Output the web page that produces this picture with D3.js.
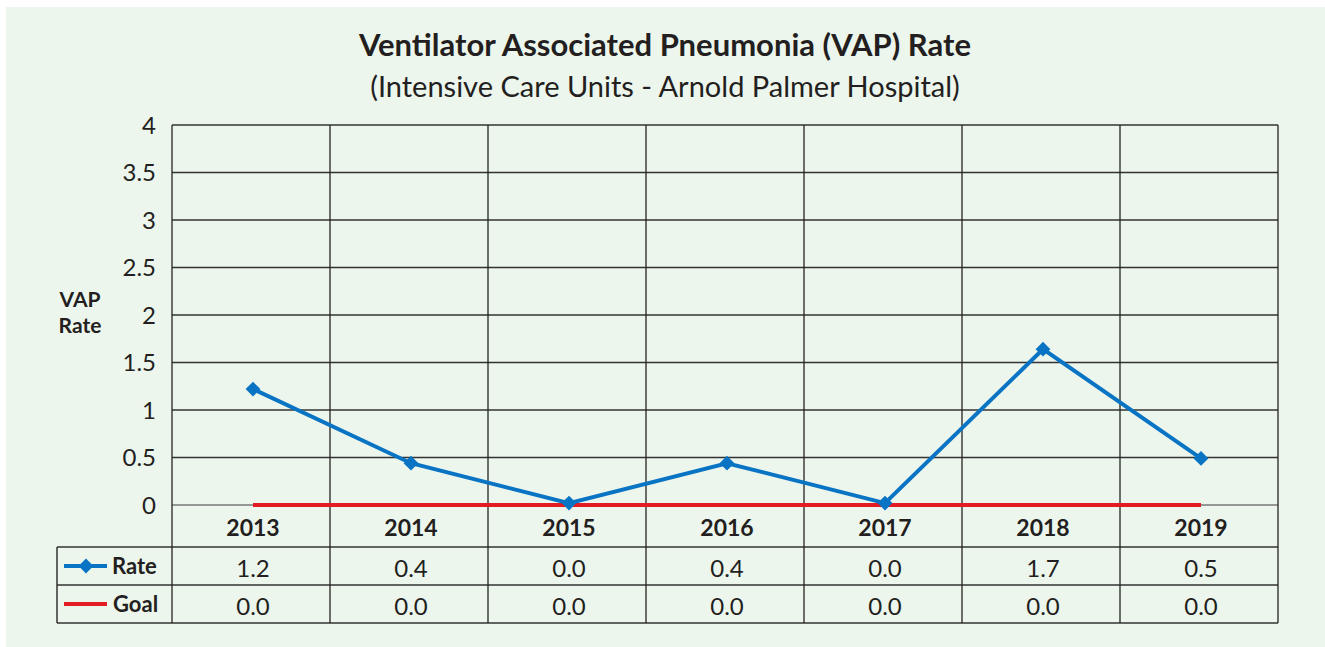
<!DOCTYPE html>
<html>
<head>
<meta charset="utf-8">
<script src="https://cdn.jsdelivr.net/npm/d3@7"></script>
<style>
body{margin:0;background:#fff;}
text{font-family:"Lato","Noto Sans",sans-serif;fill:#231f20;}
</style>
</head>
<body>
<div id="chart"></div>
<script>
var w=1325, h=647;
var pad={top:125, bottom:142, left:172, right:47};

//Chart values
var years=["2013","2014","2015","2016","2017","2018","2019"];
var rate=[1.22,0.44,0.02,0.44,0.02,1.64,0.49];
var goal=[0,0,0,0,0,0,0];
var rateLabels=["1.2","0.4","0.0","0.4","0.0","1.7","0.5"];
var goalLabels=["0.0","0.0","0.0","0.0","0.0","0.0","0.0"];
var yTicks=[0,0.5,1,1.5,2,2.5,3,3.5,4];

var blue="#0a74c4", red="#e31b23";

var svg=d3.select("#chart").append("svg")
          .attr("width",w)
          .attr("height",h);

//Background panel
svg.append("rect")
   .attr("x",6).attr("y",7)
   .attr("width",w-6).attr("height",h-7)
   .style("fill","#edf6ed");

//Titles
svg.append("text")
   .attr("x",665).attr("y",56)
   .attr("text-anchor","middle")
   .style("font-size","31px")
   .style("font-weight","bold")
   .text("Ventilator Associated Pneumonia (VAP) Rate");
svg.append("text")
   .attr("x",665).attr("y",97)
   .attr("text-anchor","middle")
   .style("font-size","29px")
   .text("(Intensive Care Units - Arnold Palmer Hospital)");

//Scales
var xScale=d3.scaleBand()
             .domain(years)
             .range([pad.left,w-pad.right])
             .padding(0);
var yScale=d3.scaleLinear()
             .domain([0,4])
             .range([h-pad.bottom,pad.top]);
var cx=function(d) {return xScale(d)+xScale.bandwidth()/2;};
var px=function(d) {return cx(d)+2;};

var y0=yScale(0);
var rowH=[42,38,38];
var tableLeft=57, tableRight=w-pad.right;

//Horizontal gridlines
svg.append("g")
   .selectAll("line")
   .data(yTicks)
   .enter()
   .append("line")
   .attr("x1",pad.left).attr("x2",tableRight)
   .attr("y1",function(d) {return yScale(d);})
   .attr("y2",function(d) {return yScale(d);})
   .style("stroke",function(d) {return d==0 ? "#777" : "#333";})
   .style("stroke-width",1.3);

//Y tick labels
svg.append("g")
   .selectAll("text")
   .data(yTicks)
   .enter()
   .append("text")
   .attr("x",156)
   .attr("y",function(d) {return yScale(d);})
   .attr("dy","0.36em")
   .attr("text-anchor","end")
   .style("font-size","24px")
   .text(function(d) {return d;});

//Y axis title
svg.append("text")
   .attr("x",80).attr("y",307)
   .attr("text-anchor","middle")
   .style("font-size","21px")
   .style("font-weight","bold")
   .text("VAP");
svg.append("text")
   .attr("x",80).attr("y",333)
   .attr("text-anchor","middle")
   .style("font-size","21px")
   .style("font-weight","bold")
   .text("Rate");

//Table rows
var rowY=[y0, y0+rowH[0], y0+rowH[0]+rowH[1], y0+rowH[0]+rowH[1]+rowH[2]];
svg.append("g")
   .selectAll("line")
   .data(rowY.slice(1))
   .enter()
   .append("line")
   .attr("x1",tableLeft).attr("x2",tableRight)
   .attr("y1",function(d) {return d;})
   .attr("y2",function(d) {return d;})
   .style("stroke","#333")
   .style("stroke-width",1.5);
svg.append("line")
   .attr("x1",tableLeft).attr("x2",tableLeft)
   .attr("y1",rowY[1]).attr("y2",rowY[3])
   .style("stroke","#333").style("stroke-width",1.5);

//Vertical gridlines
var vx=years.map(function(d) {return xScale(d);}).concat([w-pad.right]);
svg.append("g")
   .selectAll("line")
   .data(vx)
   .enter()
   .append("line")
   .attr("x1",function(d) {return d;})
   .attr("x2",function(d) {return d;})
   .attr("y1",pad.top)
   .attr("y2",rowY[3])
   .style("stroke","#222")
   .style("stroke-width",1.3);

//Year labels
svg.append("g")
   .selectAll("text")
   .data(years)
   .enter()
   .append("text")
   .attr("x",px)
   .attr("y",y0+rowH[0]/2+2)
   .attr("dy","0.36em")
   .attr("text-anchor","middle")
   .style("font-size","23px")
   .style("font-weight","bold")
   .text(function(d) {return d;});

//Value labels
var drawRow=function(labels,row) {
    svg.append("g")
       .selectAll("text")
       .data(labels)
       .enter()
       .append("text")
       .attr("x",function(d,i) {return px(years[i]);})
       .attr("y",(rowY[row]+rowY[row+1])/2+2)
       .attr("dy","0.36em")
       .attr("text-anchor","middle")
       .style("font-size","24px")
       .text(function(d) {return d;});
};
drawRow(rateLabels,1);
drawRow(goalLabels,2);

//Legend keys
var ky1=(rowY[1]+rowY[2])/2, ky2=(rowY[2]+rowY[3])/2;
svg.append("line")
   .attr("x1",64).attr("x2",107).attr("y1",ky1).attr("y2",ky1)
   .style("stroke",blue).style("stroke-width",4);
svg.append("path")
   .attr("d",d3.symbol().type(d3.symbolSquare).size(110))
   .attr("transform","translate(86,"+ky1+") rotate(45)")
   .style("fill",blue);
svg.append("text")
   .attr("x",112).attr("y",ky1).attr("dy","0.36em")
   .style("font-size","22px").style("font-weight","bold")
   .text("Rate");
svg.append("line")
   .attr("x1",64).attr("x2",107).attr("y1",ky2).attr("y2",ky2)
   .style("stroke",red).style("stroke-width",4);
svg.append("text")
   .attr("x",113).attr("y",ky2).attr("dy","0.36em")
   .style("font-size","22px").style("font-weight","bold")
   .text("Goal");

//Goal line
var line=d3.line()
           .x(function(d,i) {return px(years[i]);})
           .y(function(d) {return yScale(d);});
svg.append("path")
   .datum(goal)
   .attr("d",line)
   .style("fill","none")
   .style("stroke",red)
   .style("stroke-width",4);

//Rate line and markers
svg.append("path")
   .datum(rate)
   .attr("d",line)
   .style("fill","none")
   .style("stroke",blue)
   .style("stroke-width",4);
svg.append("g")
   .selectAll("path")
   .data(rate)
   .enter()
   .append("path")
   .attr("d",d3.symbol().type(d3.symbolSquare).size(110))
   .attr("transform",function(d,i) {return "translate("+px(years[i])+","+yScale(d)+") rotate(45)";})
   .style("fill",blue);
</script>
</body>
</html>
